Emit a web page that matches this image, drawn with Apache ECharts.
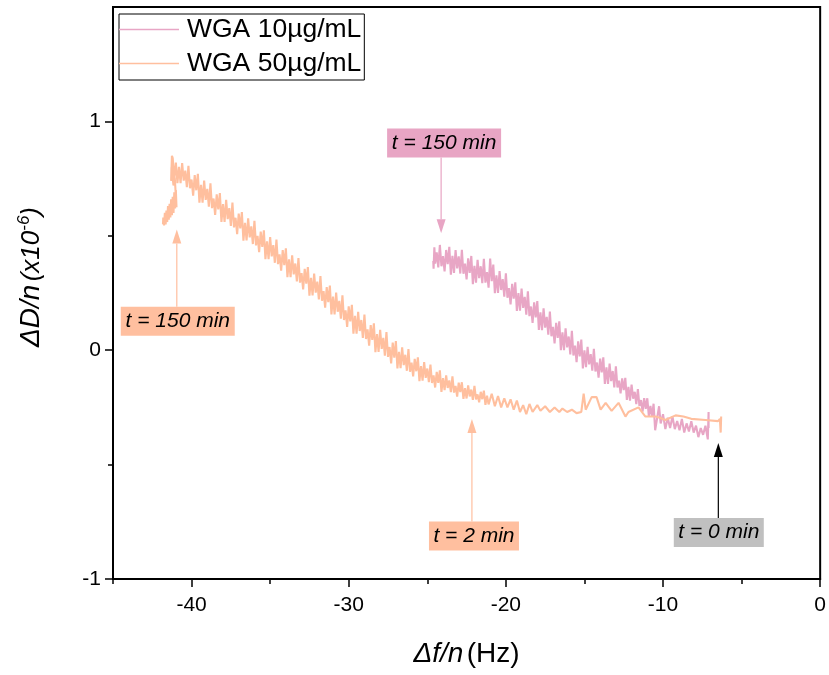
<!DOCTYPE html>
<html>
<head>
<meta charset="utf-8">
<script src="https://cdn.jsdelivr.net/npm/echarts@6/dist/echarts.min.js"></script>
<style>
html,body{margin:0;padding:0;background:#fff;}
#chart{width:829px;height:675px;}
</style>
</head>
<body>
<div id="chart"></div>
<script>
// ---- data ----
var seriesNames = ['WGA 10\u00b5g/mL', 'WGA 50\u00b5g/mL'];

// WGA 10 µg/mL : [Δf/n (Hz), ΔD/n (x10^-6)] in time order (t = 0 at right)
var pinkData = [
[-7.10,-0.34],[-7.10,-0.27],[-7.15,-0.39],[-7.30,-0.33],[-7.45,-0.37],[-7.60,-0.34],[-7.75,-0.38],[-7.90,-0.33],
[-8.05,-0.36],[-8.20,-0.31],[-8.35,-0.355],[-8.50,-0.32],[-8.65,-0.36],[-8.80,-0.30],[-8.95,-0.35],[-9.10,-0.31],
[-9.25,-0.345],[-9.40,-0.29],[-9.55,-0.34],[-9.70,-0.295],[-9.85,-0.345],[-10.00,-0.28],[-10.15,-0.32],[-10.25,-0.245],
[-10.50,-0.35],
[-10.6,-0.234],[-10.7,-0.29],[-10.8,-0.244],[-10.9,-0.289],
[-11.0,-0.21],[-11.1,-0.256],[-11.2,-0.21],[-11.3,-0.268],[-11.4,-0.218],[-11.5,-0.244],[-11.6,-0.17],[-11.7,-0.236],[-11.8,-0.182],[-11.9,-0.212],
[-12.0,-0.15],[-12.1,-0.22],[-12.2,-0.16],[-12.3,-0.217],[-12.4,-0.121],[-12.5,-0.174],[-12.6,-0.123],[-12.7,-0.189],[-12.8,-0.133],[-12.9,-0.163],
[-13.0,-0.07],[-13.1,-0.163],[-13.2,-0.091],[-13.3,-0.135],[-13.4,-0.058],[-13.5,-0.147],[-13.6,-0.075],[-13.7,-0.147],[-13.8,-0.031],[-13.9,-0.097],
[-14.0,-0.037],[-14.1,-0.12],[-14.2,-0.054],[-14.3,-0.093],[-14.4,0.006],[-14.5,-0.089],[-14.6,-0.017],[-14.7,-0.062],[-14.8,0.015],[-14.9,-0.074],
[-15.0,-0.001],[-15.1,-0.08],[-15.2,0.046],[-15.3,-0.027],[-15.4,0.039],[-15.5,-0.052],[-15.6,0.02],[-15.7,-0.023],[-15.8,0.085],[-15.9,-0.018],
[-16.0,0.06],[-16.1,0.012],[-16.2,0.096],[-16.3,0.0],[-16.4,0.078],[-16.5,0.0],[-16.6,0.126],[-16.7,0.054],[-16.8,0.12],[-16.9,0.03],
[-17.0,0.102],[-17.1,0.061],[-17.2,0.169],[-17.3,0.068],[-17.4,0.146],[-17.5,0.099],[-17.6,0.183],[-17.7,0.088],[-17.8,0.166],[-17.9,0.089],
[-18.0,0.215],[-18.1,0.143],[-18.2,0.209],[-18.3,0.119],[-18.4,0.191],[-18.5,0.149],[-18.6,0.257],[-18.7,0.155],[-18.8,0.233],[-18.9,0.185],
[-19.0,0.269],[-19.1,0.173],[-19.2,0.25],[-19.3,0.172],[-19.4,0.297],[-19.5,0.225],[-19.6,0.29],[-19.7,0.20],[-19.8,0.271],[-19.9,0.229],
[-20.0,0.336],[-20.1,0.234],[-20.2,0.311],[-20.3,0.263],[-20.4,0.346],[-20.5,0.25],[-20.6,0.327],[-20.7,0.249],[-20.8,0.374],[-20.9,0.302],
[-21.0,0.40],[-21.1,0.273],[-21.2,0.341],[-21.3,0.295],[-21.4,0.399],[-21.5,0.293],[-21.6,0.367],[-21.7,0.315],[-21.8,0.395],[-21.9,0.295],
[-22.0,0.369],[-22.1,0.289],[-22.2,0.412],[-22.3,0.338],[-22.4,0.401],[-22.5,0.309],[-22.6,0.378],[-22.7,0.334],[-22.8,0.439],[-22.9,0.335],
[-23.0,0.41],[-23.1,0.358],[-23.2,0.438],[-23.3,0.338],[-23.4,0.412],[-23.5,0.33],[-23.6,0.452],[-23.7,0.376],[-23.8,0.438],[-23.9,0.344],
[-24.0,0.411],[-24.1,0.367],[-24.2,0.46],[-24.3,0.362],[-24.4,0.428],[-24.5,0.378],[-24.55,0.45],[-24.6,0.356],[-24.62,0.39]
];

// WGA 50 µg/mL : [Δf/n (Hz), ΔD/n (x10^-6)] in time order (t = 0 at right)
var orangeData = [
[-6.30,-0.29],[-6.33,-0.36],[-6.38,-0.30],[-6.50,-0.31],[-7.30,-0.305],[-8.20,-0.30],[-8.70,-0.29],[-9.20,-0.285],
[-9.85,-0.305],[-10.20,-0.295],[-10.48,-0.29],[-11.12,-0.29],[-11.56,-0.25],[-12.20,-0.27],[-12.39,-0.29],[-12.83,-0.23],
[-13.27,-0.265],[-13.65,-0.23],[-13.97,-0.26],[-14.23,-0.205],[-14.54,-0.205],[-14.92,-0.26],[-15.05,-0.19],[-15.20,-0.27],
[-15.50,-0.275],[-15.80,-0.26],[-16.10,-0.27],[-16.40,-0.255],[-16.60,-0.27],[-16.90,-0.25],[-17.20,-0.27],[-17.50,-0.245],
[-17.80,-0.265],[-18.00,-0.24],[-18.30,-0.27],[-18.50,-0.235],[-18.70,-0.28],[-18.90,-0.24],[-19.10,-0.27],[-19.30,-0.22],
[-19.50,-0.26],[-19.70,-0.215],[-19.90,-0.25],[-20.10,-0.21],[-20.30,-0.25],[-20.50,-0.20],[-20.70,-0.245],[-20.90,-0.19],
[-21.0,-0.188],[-21.1,-0.237],[-21.2,-0.199],[-21.3,-0.239],[-21.4,-0.177],[-21.5,-0.214],[-21.6,-0.182],[-21.7,-0.228],[-21.8,-0.193],[-21.9,-0.215],
[-22.0,-0.156],[-22.1,-0.217],[-22.2,-0.172],[-22.3,-0.202],[-22.4,-0.154],[-22.5,-0.211],[-22.6,-0.166],[-22.7,-0.213],[-22.8,-0.14],[-22.9,-0.183],
[-23.0,-0.142],[-23.1,-0.203],[-23.2,-0.156],[-23.3,-0.185],[-23.4,-0.114],[-23.5,-0.183],[-23.6,-0.132],[-23.7,-0.165],[-23.8,-0.11],[-23.9,-0.175],
[-24.0,-0.122],[-24.1,-0.182],[-24.2,-0.088],[-24.3,-0.143],[-24.4,-0.095],[-24.5,-0.163],[-24.6,-0.11],[-24.7,-0.143],[-24.8,-0.063],[-24.9,-0.14],
[-25.0,-0.08],[-25.1,-0.121],[-25.2,-0.052],[-25.3,-0.133],[-25.4,-0.069],[-25.5,-0.135],[-25.6,-0.031],[-25.7,-0.092],[-25.8,-0.038],[-25.9,-0.114],
[-26.0,-0.054],[-26.1,-0.094],[-26.2,0.005],[-26.3,-0.09],[-26.4,-0.02],[-26.5,-0.065],[-26.6,0.012],[-26.7,-0.078],[-26.8,-0.007],[-26.9,-0.08],
[-27.0,0.04],[-27.1,-0.033],[-27.2,0.033],[-27.3,-0.058],[-27.4,0.014],[-27.5,-0.029],[-27.6,0.079],[-27.7,-0.024],[-27.8,0.054],[-27.9,0.006],
[-28.0,0.089],[-28.1,-0.008],[-28.2,0.07],[-28.3,-0.009],[-28.4,0.117],[-28.5,0.045],[-28.6,0.11],[-28.7,0.02],[-28.8,0.091],[-28.9,0.049],
[-29.0,0.156],[-29.1,0.054],[-29.2,0.132],[-29.3,0.084],[-29.4,0.168],[-29.5,0.072],[-29.6,0.15],[-29.7,0.072],[-29.8,0.198],[-29.9,0.126],
[-30.0,0.192],[-30.1,0.102],[-30.2,0.174],[-30.3,0.132],[-30.4,0.24],[-30.5,0.138],[-30.6,0.216],[-30.7,0.168],[-30.8,0.252],[-30.9,0.156],
[-31.0,0.234],[-31.1,0.156],[-31.2,0.282],[-31.3,0.21],[-31.4,0.276],[-31.5,0.186],[-31.6,0.258],[-31.7,0.216],[-31.8,0.324],[-31.9,0.222],
[-32.0,0.30],[-32.1,0.252],[-32.2,0.335],[-32.3,0.239],[-32.4,0.316],[-32.5,0.238],[-32.6,0.363],[-32.7,0.291],[-32.8,0.356],[-32.9,0.266],
[-33.0,0.337],[-33.1,0.295],[-33.2,0.403],[-33.3,0.301],[-33.4,0.379],[-33.5,0.331],[-33.6,0.415],[-33.7,0.319],[-33.8,0.397],[-33.9,0.319],
[-34.0,0.445],[-34.1,0.372],[-34.2,0.438],[-34.3,0.348],[-34.4,0.419],[-34.5,0.376],[-34.6,0.484],[-34.7,0.382],[-34.8,0.459],[-34.9,0.41],
[-35.0,0.494],[-35.1,0.398],[-35.2,0.476],[-35.3,0.398],[-35.4,0.524],[-35.5,0.452],[-35.6,0.518],[-35.7,0.428],[-35.8,0.50],[-35.9,0.458],
[-36.0,0.566],[-36.1,0.464],[-36.2,0.541],[-36.3,0.493],[-36.4,0.576],[-36.5,0.48],[-36.6,0.557],[-36.7,0.479],[-36.8,0.604],[-36.9,0.532],
[-37.0,0.597],[-37.1,0.507],[-37.2,0.579],[-37.3,0.537],[-37.4,0.645],[-37.5,0.543],[-37.6,0.621],[-37.7,0.573],[-37.8,0.657],[-37.9,0.561],
[-38.0,0.639],[-38.1,0.561],[-38.2,0.687],[-38.3,0.615],[-38.4,0.681],[-38.5,0.591],[-38.6,0.663],[-38.7,0.621],[-38.8,0.729],[-38.9,0.627],
[-39.0,0.705],[-39.1,0.657],[-39.2,0.741],[-39.3,0.645],[-39.4,0.723],[-39.5,0.645],[-39.6,0.771],[-39.7,0.699],[-39.8,0.765],[-39.9,0.675],
[-40.0,0.746],[-40.1,0.708],[-40.2,0.806],[-40.3,0.713],[-40.4,0.785],[-40.5,0.741],[-40.6,0.818],[-40.7,0.73],[-40.8,0.801],[-40.9,0.73],
[-41.0,0.82],[-41.1,0.75],[-41.2,0.84],[-41.25,0.85],[-41.3,0.74],[-41.28,0.80],[-41.15,0.72],[-41.07,0.755],[-40.96,0.625],
[-41.00,0.70],[-41.05,0.62],[-41.10,0.69],[-41.15,0.60],[-41.20,0.67],[-41.25,0.59],[-41.30,0.66],[-41.35,0.58],[-41.40,0.64],
[-41.45,0.57],[-41.50,0.63],[-41.55,0.56],[-41.60,0.61],[-41.65,0.55],[-41.70,0.60],[-41.75,0.545],[-41.80,0.58],[-41.82,0.55]
];

// axis ticks
var xMajorTicks = [-40, -30, -20, -10, 0];
var xMinorTicks = [-45, -35, -25, -15, -5];
var yMajorTicks = [-1, 0, 1];
var yMinorTicks = [-0.5, 0.5];

// annotations: label, box centre (data), arrow tip (data)
var annLabels = ['t = 150 min', 't = 150 min', 't = 2 min', 't = 0 min'];
var annBoxAt  = [[-23.93, 0.906], [-40.88, 0.127], [-22.03, -0.812], [-6.45, -0.797]];
var annTipAt  = [[-24.12, 0.511], [-40.94, 0.528], [-22.16, -0.301], [-6.48, -0.406]];

// ---- styles ----
var PINK = '#e8a6c5', ORANGE = '#ffbf9e';
var annFill   = ['#e8a5c4', '#ffbf9f', '#ffbf9f', '#c0c0c0'];
var annArrow  = ['#e8a5c4', '#ffbf9f', '#ffbf9f', '#000000'];
var annWidth  = [114, 114, 90, 90];
var FONT = 'Liberation Sans, Arial, sans-serif';

var chart = echarts.init(document.getElementById('chart'), null, {renderer: 'canvas'});

var mainLine = {show: true, onZero: false, lineStyle: {color: '#000', width: 2}};

chart.setOption({
  animation: false,
  backgroundColor: '#fff',
  grid: {left: 113, right: 7, top: 7, bottom: 96, show: true, borderColor: '#000', borderWidth: 2, backgroundColor: 'transparent'},
  legend: {
    orient: 'vertical', left: 119, top: 14,
    data: seriesNames, icon: 'rect',
    borderColor: '#000', borderWidth: 1,
    padding: [2, 3, 3, 0],
    itemWidth: 60, itemHeight: 1.5, itemGap: 7,
    textStyle: {fontFamily: FONT, fontSize: 26.5, lineHeight: 26, color: '#000', padding: [0, 0, 0, 3]}
  },
  xAxis: [{
    type: 'value', min: -45, max: 0,
    axisLine: mainLine, splitLine: {show: false},
    axisTick: {show: true, length: 8, lineStyle: {color: '#000', width: 1.5}, customValues: xMajorTicks},
    axisLabel: {show: true, customValues: xMajorTicks, fontFamily: FONT, fontSize: 21, color: '#000', margin: 16},
    name: '{a|\u0394f/n} {b|(Hz)}', nameLocation: 'middle', nameGap: 61,
    nameTextStyle: {rich: {a: {fontFamily: FONT, fontSize: 28, fontStyle: 'italic', color: '#000'}, b: {fontFamily: FONT, fontSize: 28, color: '#000'}}}
  }, {
    type: 'value', min: -45, max: 0, position: 'bottom',
    axisLine: {show: false, onZero: false}, splitLine: {show: false},
    axisTick: {show: true, length: 5, lineStyle: {color: '#000', width: 1.5}, customValues: xMinorTicks},
    axisLabel: {show: false}
  }],
  yAxis: [{
    type: 'value', min: -1, max: 1.5,
    axisLine: mainLine, splitLine: {show: false},
    axisTick: {show: true, length: 8, lineStyle: {color: '#000', width: 1.5}, customValues: yMajorTicks},
    axisLabel: {show: true, customValues: yMajorTicks, fontFamily: FONT, fontSize: 21, color: '#000', margin: 12},
    name: '{a|\u0394D/n} {b|(x10}{c|-6}{b|)}', nameLocation: 'middle', nameGap: 66, nameRotate: 90,
    nameTextStyle: {padding: [0, 0, 0, 32], rich: {
      a: {fontFamily: FONT, fontSize: 28, fontStyle: 'italic', color: '#000'},
      b: {fontFamily: FONT, fontSize: 26, fontStyle: 'italic', color: '#000'},
      c: {fontFamily: FONT, fontSize: 17, fontStyle: 'italic', color: '#000', verticalAlign: 'top', padding: [0, 0, 14, 0]}
    }}
  }, {
    type: 'value', min: -1, max: 1.5, position: 'left',
    axisLine: {show: false, onZero: false}, splitLine: {show: false},
    axisTick: {show: true, length: 5, lineStyle: {color: '#000', width: 1.5}, customValues: yMinorTicks},
    axisLabel: {show: false}
  }],
  series: [{
    name: seriesNames[0], type: 'line', data: pinkData, symbol: 'none', sampling: null,
    xAxisIndex: 0, yAxisIndex: 0,
    lineStyle: {color: PINK, width: 2.1}, itemStyle: {color: PINK}, z: 2
  }, {
    name: seriesNames[1], type: 'line', data: orangeData, symbol: 'none', sampling: null,
    xAxisIndex: 0, yAxisIndex: 0,
    lineStyle: {color: ORANGE, width: 2.1}, itemStyle: {color: ORANGE}, z: 3
  }]
});

// annotations (boxes + arrows) positioned through the chart's own scales
var g = [];
for (var i = 0; i < annLabels.length; i++) {
  var b = chart.convertToPixel({xAxisIndex: 0, yAxisIndex: 0}, annBoxAt[i]);
  var t = chart.convertToPixel({xAxisIndex: 0, yAxisIndex: 0}, annTipAt[i]);
  var w = annWidth[i], h = 29;
  var up = t[1] < b[1];
  var startY = up ? b[1] - h / 2 : b[1] + h / 2;
  var headLen = 14, headHalf = 4.5;
  var baseY = up ? t[1] + headLen : t[1] - headLen;
  g.push({type: 'line', z: 100, shape: {x1: t[0], y1: startY, x2: t[0], y2: baseY}, style: {stroke: annArrow[i], lineWidth: 1.2}});
  g.push({type: 'polygon', z: 100, shape: {points: [[t[0], t[1]], [t[0] - headHalf, baseY], [t[0] + headHalf, baseY]]}, style: {fill: annArrow[i]}});
  g.push({type: 'rect', z: 100, shape: {x: b[0] - w / 2, y: b[1] - h / 2, width: w, height: h}, style: {fill: annFill[i]}});
  g.push({type: 'text', z: 101, x: b[0], y: b[1], style: {text: annLabels[i], fill: '#000', font: 'italic 21px ' + FONT, align: 'center', verticalAlign: 'middle'}});
}
chart.setOption({graphic: g});
</script>
</body>
</html>
